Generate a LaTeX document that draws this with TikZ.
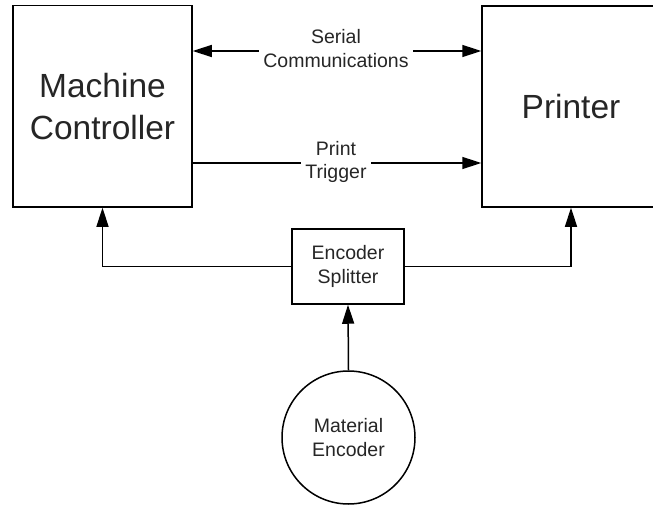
\documentclass[tikz,border=0pt]{standalone}
\usepackage{fontspec}
\setmainfont{Liberation Sans}
\usetikzlibrary{arrows.meta}
\tikzset{
  box/.style={draw=black, line width=1.5pt, rectangle, inner sep=0pt, fill=white},
  bigtxt/.style={font=\fontsize{33.5}{42}\selectfont, text=black!85, align=center},
  smalltxt/.style={font=\fontsize{19.5}{23.5}\selectfont, text=black!85, align=center},
  lbl/.style={smalltxt, fill=white, inner xsep=4pt, inner ysep=1pt},
  conn/.style={draw=black, line width=1.5pt},
  arr/.style={conn, -{Triangle[length=19pt,width=12pt]}},
  darr/.style={conn, {Triangle[length=19pt,width=12pt]}-{Triangle[length=19pt,width=12pt]}}
}
\begin{document}
\begin{tikzpicture}[x=1pt,y=-1pt]
\useasboundingbox (0,0) rectangle (653,505);
\clip (0,0) rectangle (653,505);
\fill[white] (0,0) rectangle (653,505);

\node[box, bigtxt, minimum width=179pt, minimum height=201.5pt] (mc) at (102.5,106.25) {Machine\\Controller};
\node[box, bigtxt, minimum width=178pt, minimum height=201pt] (pr) at (571,106.5) {Printer};
\node[box, smalltxt, minimum width=112pt, minimum height=75pt] (es) at (348,266.5) {Encoder\\Splitter};
\node[box, smalltxt, circle, minimum size=133pt] (me) at (348.5,437.5) {Material\\Encoder};

\coordinate (ser) at (337,51);
\coordinate (trg) at (337,163);

\draw[darr] (mc.east |- ser) -- (pr.west |- ser);
\draw[arr] (mc.east |- trg) -- (pr.west |- trg);
\node[lbl] (serlbl) at (336,48.5) {Serial\\Communications};
\node[lbl] (trglbl) at (336,162) {Print\\Trigger};

\draw[arr] (es.west) -| (mc.south);
\draw[arr] (es.east) -| (pr.south);
\draw[arr] (me.north) -- (es.south);
\end{tikzpicture}
\end{document}
